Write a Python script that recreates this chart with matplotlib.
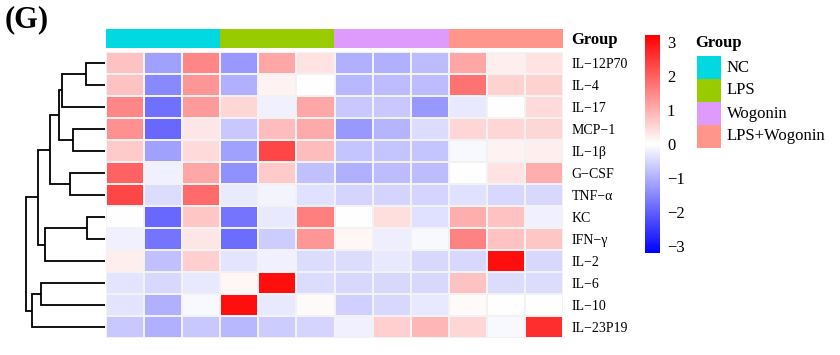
import numpy as np
import matplotlib
matplotlib.use("Agg")
import matplotlib.pyplot as plt
from matplotlib.colors import LinearSegmentedColormap, ListedColormap

plt.rcParams["font.family"] = ["Liberation Serif", "DejaVu Serif"]

cytokines = ["IL−12P70", "IL−4", "IL−17", "MCP−1", "IL−1β", "G−CSF", "TNF−α",
             "KC", "IFN−γ", "IL−2", "IL−6", "IL−10", "IL−23P19"]
groups = ["NC", "LPS", "Wogonin", "LPS+Wogonin"]
group_colors = ["#00d9e1", "#99cc00", "#df9bfb", "#ff958b"]
n_rep = 3

# z-scores per cytokine, columns: NC x3, LPS x3, Wogonin x3, LPS+Wogonin x3
values = np.array([
    [0.75, -1.2, 1.5, -1.3, 1.1, 0.37, -1.0, -1.0, -0.85, 1.1, 0.2, 0.35],
    [0.75, -1.5, 1.3, -1.0, 0.15, 0.0, -0.9, -0.85, -0.85, 1.75, 0.55, 0.55],
    [1.5, -1.8, 1.25, 0.5, -0.18, 1.1, -0.7, -0.7, -1.3, -0.3, 0.02, 0.45],
    [1.4, -1.9, 0.3, -0.7, 0.85, 1.05, -1.3, -0.95, -0.45, 0.5, 0.5, 0.5],
    [0.65, -1.2, 0.45, -1.2, 2.3, 0.85, -0.75, -0.75, -0.75, -0.1, 0.15, 0.2],
    [1.95, -0.18, 1.1, -1.4, 0.65, -0.8, -1.0, -0.85, -0.85, 0.02, 0.35, 1.0],
    [2.3, -0.45, 1.85, -0.27, -0.15, -0.4, -0.55, -0.55, -0.55, -0.4, -0.5, -0.5],
    [0.02, -1.9, 0.7, -1.75, -0.3, 1.6, 0.0, 0.4, -0.4, 1.0, 0.75, -0.18],
    [-0.2, -1.75, 0.3, -1.85, -0.65, 1.3, 0.12, -0.22, -0.1, 1.55, 0.75, 0.7],
    [0.22, -0.8, 0.6, -0.35, -0.18, -0.45, -0.45, -0.3, -0.5, -0.5, 3.0, -0.5],
    [-0.35, -0.5, -0.3, 0.1, 3.0, -0.45, -0.5, -0.5, -0.5, 0.75, -0.45, -0.45],
    [-0.35, -1.0, -0.1, 3.0, -0.3, 0.05, -0.6, -0.5, -0.3, 0.05, 0.0, 0.0],
    [-0.7, -1.0, -0.7, -0.9, -0.65, -0.55, -0.18, 0.6, 0.9, 0.5, -0.1, 2.6],
])

# row clustering, scipy-like: (child a, child b, height), new nodes numbered from 13
merges = [(0, 1, 19), (13, 2, 43), (3, 4, 32), (14, 15, 46), (5, 6, 35),
          (16, 17, 55), (7, 8, 18), (19, 9, 60), (18, 20, 67), (10, 11, 64),
          (22, 12, 73), (21, 23, 79)]

W, H = 840, 355
fig = plt.figure(figsize=(W / 100, H / 100), dpi=100)


def box(x0, y0, x1, y1):
    # pixel box (top-left origin) -> figure fraction rect
    return [x0 / W, 1 - y1 / H, (x1 - x0) / W, (y1 - y0) / H]


cmap = LinearSegmentedColormap.from_list("bwr2", ["#0000ff", "#ffffff", "#ff0000"])
vmin, vmax = -3.2, 3.2
nrow, ncol = values.shape

# heatmap
ax = fig.add_axes(box(106, 52, 563, 338))
mesh = ax.pcolormesh(values, cmap=cmap, vmin=vmin, vmax=vmax,
                     edgecolors="#f2f2f2", linewidth=0.3)
ax.set_xlim(0, ncol)
ax.set_ylim(nrow, 0)
ax.set_xticks([])
ax.set_yticks(np.arange(nrow) + 0.5)
ax.set_yticklabels(cytokines, fontsize=10)
ax.yaxis.tick_right()
ax.tick_params(axis="y", length=0, pad=6)
for s in ax.spines.values():
    s.set_visible(False)

# group annotation bar
gax = fig.add_axes(box(106, 29, 563, 48))
gidx = np.repeat(np.arange(len(groups)), n_rep)[None, :]
gax.imshow(gidx, cmap=ListedColormap(group_colors), aspect="auto",
           extent=(0, ncol, 1, 0), vmin=-0.5, vmax=len(groups) - 0.5)
gax.set_xticks([])
gax.set_yticks([0.5])
gax.set_yticklabels(["Group"], fontsize=12, fontweight="bold")
gax.yaxis.tick_right()
gax.tick_params(axis="y", length=0, pad=6)
for s in gax.spines.values():
    s.set_visible(False)

# dendrogram
dax = fig.add_axes(box(0, 52, 105, 338))
pos = {i: (0.0, i + 0.5) for i in range(nrow)}
for k, (a, b, h) in enumerate(merges):
    xa, ya = pos[a]
    xb, yb = pos[b]
    dax.plot([xa, h, h, xb], [ya, ya, yb, yb], color="black", lw=1.3,
             solid_capstyle="butt", solid_joinstyle="miter")
    pos[nrow + k] = (h, (ya + yb) / 2)
dax.set_xlim(105, 0)
dax.set_ylim(nrow, 0)
dax.axis("off")

# colour scale
cax = fig.add_axes(box(645, 35, 660, 253))
cb = fig.colorbar(mesh, cax=cax, ticks=[-3, -2, -1, 0, 1, 2, 3])
cb.outline.set_visible(False)
cb.ax.tick_params(length=0, labelsize=12, pad=5)
cb.ax.set_yticklabels(["−3", "−2", "−1", "0", "1", "2", "3"])

# group legend
lax = fig.add_axes(box(690, 30, 840, 155))
lax.set_xlim(690, 840)
lax.set_ylim(155, 30)
lax.axis("off")
lax.text(695, 43, "Group", fontsize=12, fontweight="bold", va="center", ha="left")
for i, (g, c) in enumerate(zip(groups, group_colors)):
    lax.add_patch(plt.Rectangle((697, 56 + 23 * i), 24, 23, color=c, lw=0))
    lax.text(727, 56 + 23 * i + 11.5, g, fontsize=12, va="center", ha="left")

fig.text(5 / W, 1 - 20 / H, "(G)", fontsize=22, fontweight="bold",
         va="center", ha="left")

fig.savefig("out.png", dpi=100)
